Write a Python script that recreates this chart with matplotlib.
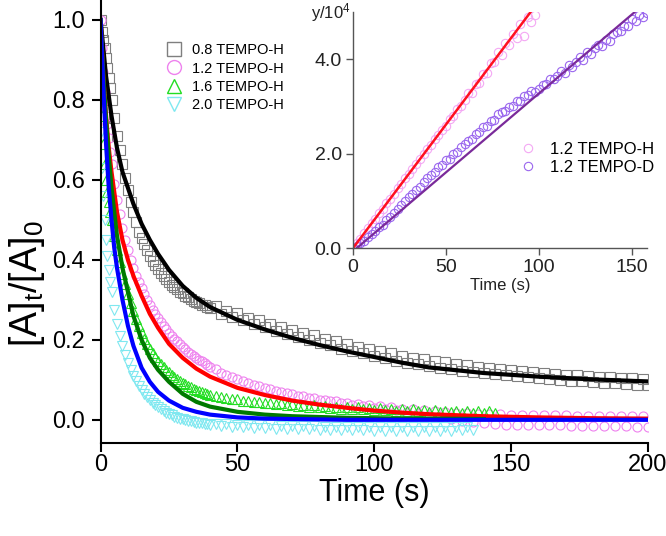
import matplotlib
matplotlib.use("Agg")
import matplotlib.pyplot as plt
from matplotlib.ticker import FormatStrFormatter

plt.rcParams['font.family'] = ['Liberation Sans', 'DejaVu Sans']
plt.rcParams['mathtext.default'] = 'regular'

# ---------------- main panel data ----------------
# sampling times of the measured traces
tm = [0, 0.5, 1, 1.5, 2, 2.5, 3, 3.5] + list(range(4, 41)) + list(range(42, 201, 2))

d08 = [1.0, 0.97, 0.95, 0.93, 0.905, 0.88, 0.855, 0.83,
       0.8, 0.755, 0.71, 0.675, 0.64, 0.605, 0.575, 0.545, 0.52, 0.495, 0.47, 0.455, 0.44,
       0.425, 0.41, 0.398, 0.387, 0.378, 0.368, 0.36, 0.352, 0.345, 0.338, 0.332, 0.327, 0.32,
       0.316, 0.31, 0.306, 0.302, 0.298, 0.295, 0.292, 0.288, 0.286, 0.283, 0.28,
       0.285, 0.265, 0.272, 0.258, 0.266, 0.25, 0.255, 0.24, 0.25, 0.232, 0.24, 0.222, 0.232,
       0.215, 0.225, 0.207, 0.218, 0.2, 0.212, 0.192, 0.203, 0.186, 0.198, 0.178, 0.19, 0.172,
       0.182, 0.166, 0.178, 0.16, 0.172, 0.154, 0.166, 0.148, 0.16, 0.143, 0.155, 0.139, 0.152,
       0.135, 0.147, 0.13, 0.144, 0.127, 0.14, 0.123, 0.137, 0.12, 0.133, 0.117, 0.13, 0.114,
       0.127, 0.111, 0.124, 0.109, 0.121, 0.106, 0.119, 0.104, 0.117, 0.102, 0.115, 0.1, 0.113,
       0.098, 0.111, 0.096, 0.11, 0.094, 0.108, 0.093, 0.106, 0.091, 0.105, 0.09, 0.104, 0.088,
       0.102, 0.087]

d12 = [1.0, 0.93, 0.87, 0.82, 0.78, 0.74, 0.705, 0.67,
       0.64, 0.59, 0.55, 0.515, 0.48, 0.45, 0.425, 0.4, 0.38, 0.36, 0.345, 0.33, 0.315, 0.3,
       0.288, 0.275, 0.265, 0.255, 0.245, 0.235, 0.226, 0.218, 0.21, 0.203, 0.196, 0.189, 0.182,
       0.176, 0.17, 0.165, 0.16, 0.155, 0.15, 0.146, 0.141, 0.137, 0.133,
       0.126, 0.118, 0.113, 0.106, 0.102, 0.096, 0.093, 0.087, 0.084, 0.079, 0.077, 0.072, 0.07,
       0.066, 0.064, 0.06, 0.059, 0.055, 0.054, 0.05, 0.05, 0.046, 0.046, 0.041, 0.043, 0.037,
       0.04, 0.034, 0.037, 0.03, 0.034, 0.027, 0.031, 0.024, 0.028, 0.02, 0.026, 0.017, 0.024,
       0.012, 0.022, 0.006, 0.02, 0.002, 0.018, -0.004, 0.016, -0.006, 0.015, -0.008, 0.014,
       -0.01, 0.014, -0.012, 0.013, -0.012, 0.012, -0.013, 0.012, -0.013, 0.012, -0.014, 0.011,
       -0.014, 0.011, -0.015, 0.01, -0.015, 0.01, -0.015, 0.01, -0.016, 0.01, -0.016, 0.01,
       -0.016, 0.009, -0.017, 0.009, -0.017]

d16 = [0.85, 0.76, 0.69, 0.64, 0.6, 0.57, 0.545, 0.52,
       0.5, 0.46, 0.425, 0.395, 0.365, 0.34, 0.315, 0.293, 0.272, 0.252, 0.234, 0.218, 0.203,
       0.19, 0.178, 0.167, 0.157, 0.148, 0.14, 0.132, 0.125, 0.119, 0.113, 0.107, 0.102, 0.097,
       0.093, 0.089, 0.085, 0.081, 0.078, 0.075, 0.072, 0.07, 0.067, 0.065, 0.063,
       0.06, 0.056, 0.055, 0.051, 0.051, 0.047, 0.048, 0.044, 0.045, 0.041, 0.043, 0.039, 0.041,
       0.036, 0.039, 0.034, 0.037, 0.032, 0.036, 0.031, 0.034, 0.029, 0.033, 0.028, 0.032,
       0.027, 0.031, 0.026, 0.03, 0.025, 0.029, 0.024, 0.028, 0.023, 0.027, 0.022, 0.026, 0.021,
       0.025, 0.02, 0.024, 0.02, 0.023, 0.019, 0.023, 0.018, 0.022, 0.018, 0.021, 0.017, 0.021,
       0.017]

d20 = [0.72, 0.63, 0.56, 0.5, 0.45, 0.41, 0.375, 0.345,
       0.32, 0.275, 0.24, 0.21, 0.185, 0.162, 0.142, 0.125, 0.11, 0.097, 0.085, 0.074, 0.065,
       0.057, 0.049, 0.042, 0.036, 0.031, 0.026, 0.021, 0.017, 0.014, 0.011, 0.008, 0.005,
       0.003, 0.001, -0.001, -0.003, -0.004, -0.005, -0.007, -0.008, -0.009, -0.01, -0.011,
       -0.012,
       -0.01, -0.016, -0.011, -0.018, -0.012, -0.019, -0.013, -0.02, -0.013, -0.021, -0.014,
       -0.022, -0.015, -0.023, -0.015, -0.024, -0.016, -0.024, -0.016, -0.025, -0.017, -0.025,
       -0.017, -0.026, -0.017, -0.026, -0.018, -0.026, -0.018, -0.027, -0.018, -0.027, -0.018,
       -0.027, -0.019, -0.027, -0.019, -0.027, -0.019, -0.027, -0.019, -0.027, -0.019, -0.027,
       -0.019, -0.026, -0.019, -0.026]

# fitted curves
tf = [0, 1, 2, 3, 4, 5, 6, 8, 10, 12, 15, 18, 21, 25, 30, 35, 40, 50, 60, 70, 80, 90, 100,
      110, 120, 140, 160, 180, 200]
f08 = [1.0, 0.93, 0.86, 0.81, 0.76, 0.72, 0.68, 0.62, 0.58, 0.54, 0.49, 0.45, 0.415, 0.375,
       0.335, 0.305, 0.282, 0.25, 0.226, 0.205, 0.187, 0.171, 0.157, 0.143, 0.131, 0.117,
       0.108, 0.101, 0.096]
f12 = [1.0, 0.86, 0.76, 0.68, 0.62, 0.57, 0.52, 0.45, 0.40, 0.36, 0.31, 0.265, 0.23, 0.19,
       0.155, 0.128, 0.108, 0.08, 0.062, 0.048, 0.038, 0.03, 0.023, 0.018, 0.014, 0.009,
       0.006, 0.004, 0.003]
f16 = [1.0, 0.86, 0.75, 0.66, 0.58, 0.52, 0.46, 0.38, 0.32, 0.26, 0.2, 0.155, 0.125, 0.095,
       0.065, 0.045, 0.033, 0.02, 0.013, 0.009, 0.007, 0.005, 0.004, 0.003, 0.003, 0.002]
f20 = [1.0, 0.83, 0.69, 0.58, 0.5, 0.43, 0.38, 0.3, 0.235, 0.185, 0.13, 0.095, 0.07, 0.048,
       0.03, 0.02, 0.013, 0.006, 0.003, 0.002, 0.001, 0.0, 0.0, 0.0, 0.0, 0.0, 0.0, 0.0, 0.0]

main_labels = ['0.8 TEMPO-H', '1.2 TEMPO-H', '1.6 TEMPO-H', '2.0 TEMPO-H']
main_ticks_x = [0, 50, 100, 150, 200]
main_ticks_y = [0.0, 0.2, 0.4, 0.6, 0.8, 1.0]

# ---------------- inset data ----------------
ti_h = list(range(0, 100, 2))
yi_h = [0.0, 0.1, 0.2, 0.32, 0.42, 0.53, 0.62, 0.74, 0.84, 0.95, 1.05, 1.15, 1.27, 1.36, 1.48,
        1.57, 1.68, 1.79, 1.88, 2.0, 2.1, 2.18, 2.32, 2.4, 2.5, 2.6, 2.74, 2.8, 2.95, 3.02,
        3.15, 3.28, 3.3, 3.48, 3.5, 3.7, 3.72, 3.92, 3.95, 4.15, 4.1, 4.35, 4.3, 4.55, 4.45,
        4.75, 4.5, 4.9, 4.8, 4.95]
ti_d = list(range(0, 160, 2))
yi_d = [0.0, 0.04, 0.1, 0.15, 0.23, 0.3, 0.36, 0.44, 0.5, 0.59, 0.66, 0.75, 0.82, 0.92, 0.99,
        1.09, 1.15, 1.24, 1.3, 1.41, 1.48, 1.56, 1.62, 1.72, 1.77, 1.86, 1.9, 2.0, 2.04, 2.14,
        2.2, 2.28, 2.32, 2.43, 2.47, 2.57, 2.6, 2.7, 2.72, 2.84, 2.88, 2.9, 3.0, 3.02, 3.12,
        3.12, 3.22, 3.24, 3.33, 3.32, 3.38, 3.46, 3.48, 3.58, 3.58, 3.65, 3.75, 3.72, 3.88,
        3.85, 3.95, 4.05, 3.98, 4.15, 4.12, 4.25, 4.3, 4.28, 4.42, 4.4, 4.55, 4.58, 4.6, 4.72,
        4.7, 4.85, 4.82, 4.95, 4.9, 4.98]
tl_h = [0, 96]
yl_h = [0.0, 5.03]
tl_d = [2, 152]
yl_d = [0.0, 5.02]
inset_labels = ['1.2 TEMPO-H', '1.2 TEMPO-D']

# ---------------- figure ----------------
fig = plt.figure(figsize=(6.66, 5.36), dpi=100)
ax = fig.add_axes([0.151, 0.1735, 0.822, 0.8265])

mk = dict(linestyle='none', markerfacecolor='none', markersize=6.5, markeredgewidth=0.8)
ax.plot(tm, d08, marker='s', color='#7f7f7f', label=main_labels[0], **mk)
ax.plot(tm, d12, marker='o', color='#ee82ee', label=main_labels[1], **mk)
ax.plot(tm[:len(d16)], d16, marker='^', color='#22dd22', label=main_labels[2], **mk)
ax.plot(tm[:len(d20)], d20, marker='v', color='#7fe8f0', label=main_labels[3], **mk)

lw = 3.0
ax.plot(tf, f08, color='black', lw=lw)
ax.plot(tf, f12, color='#ff0000', lw=lw)
ax.plot(tf[:len(f16)], f16, color='#007a00', lw=lw)
ax.plot(tf, f20, color='#0000ff', lw=lw)

ax.set_xlim(0, 200)
ax.set_ylim(-0.058, 1.05)
ax.set_xticks(main_ticks_x)
ax.set_yticks(main_ticks_y)
ax.yaxis.set_major_formatter(FormatStrFormatter('%.1f'))
for s in ['top', 'right']:
    ax.spines[s].set_visible(False)
for s in ['left', 'bottom']:
    ax.spines[s].set_linewidth(1.5)
ax.tick_params(direction='out', length=6.5, width=1.5, labelsize=17)
ax.tick_params(axis='x', pad=1.5)
ax.tick_params(axis='y', pad=5)
ax.set_xlabel('Time (s)', fontsize=22, va='center')
ax.set_ylabel('[A]$_t$/[A]$_0$', fontsize=27, va='center')
ax.xaxis.set_label_coords(0.5, -0.113)
ax.yaxis.set_label_coords(-0.135, 0.36)

leg = ax.legend(loc='upper left', bbox_to_anchor=(0.108, 0.915), frameon=False,
                fontsize=10.5, handletextpad=0.6, labelspacing=0.28, handlelength=1.2,
                borderaxespad=0)
for h in leg.legend_handles:
    h.set_markersize(10)
    h.set_markeredgewidth(1.0)

# ---------------- inset ----------------
ia = fig.add_axes([0.530, 0.537, 0.441, 0.440])
ia.plot(ti_h, yi_h, linestyle='none', marker='o', markerfacecolor='none',
        markeredgecolor='#f4a8f4', markersize=6, markeredgewidth=0.8, label=inset_labels[0])
ia.plot(ti_d, yi_d, linestyle='none', marker='o', markerfacecolor='none',
        markeredgecolor='#9a66ee', markersize=6, markeredgewidth=0.8, label=inset_labels[1])
ia.plot(tl_h, yl_h, color='#ff1020', lw=1.8)
ia.plot(tl_d, yl_d, color='#7a2a9a', lw=1.6)
ia.set_xlim(0, 158)
ia.set_ylim(0, 5.0)
ia.set_xticks([0, 50, 100, 150])
ia.set_yticks([0.0, 2.0, 4.0])
ia.yaxis.set_major_formatter(FormatStrFormatter('%.1f'))
for s in ['top', 'right']:
    ia.spines[s].set_visible(False)
for s in ['left', 'bottom']:
    ia.spines[s].set_color('#555555')
    ia.spines[s].set_linewidth(1.0)
ia.tick_params(direction='out', length=5, width=1.0, color='#555555', labelsize=14,
               labelcolor='#222222', pad=3)
ia.set_xlabel('Time (s)', fontsize=12, color='#222222', labelpad=1)
ia.text(-0.075, 1.0, 'y/10$^4$', transform=ia.transAxes, ha='center', va='center',
        fontsize=12, color='#222222')
il = ia.legend(loc='upper left', bbox_to_anchor=(0.545, 0.48), frameon=False, fontsize=12,
               handletextpad=0.8, labelspacing=0.2, handlelength=1.0, borderaxespad=0)

fig.savefig('out.png', dpi=100)
